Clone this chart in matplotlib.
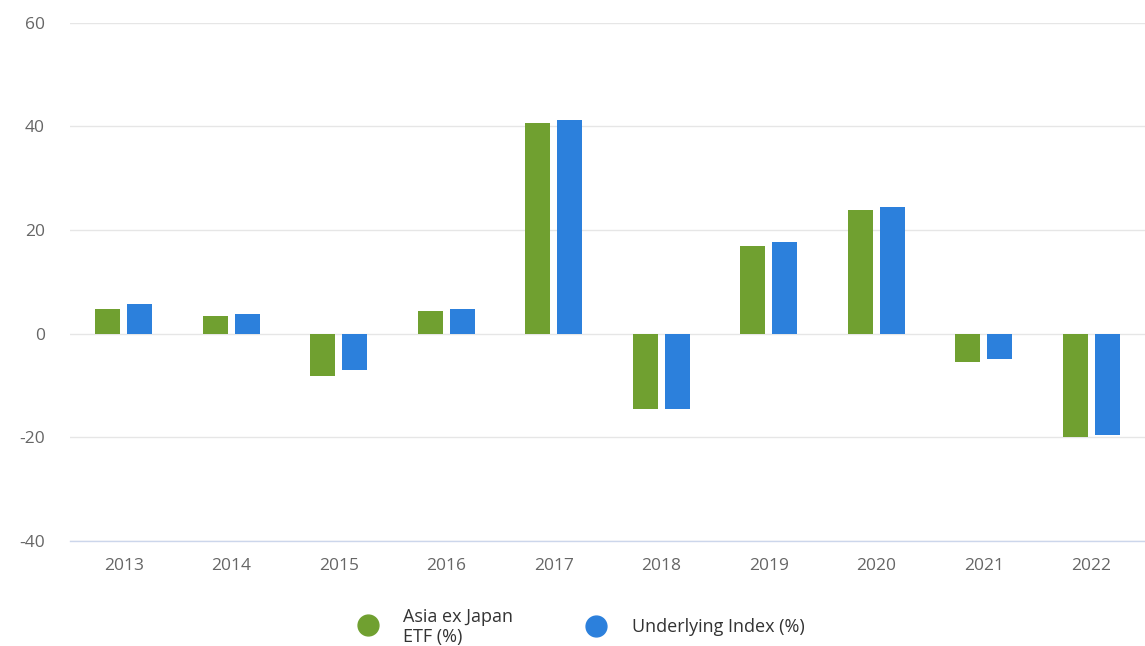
import numpy as np
import matplotlib
matplotlib.use('AGG')
import matplotlib.pyplot as plt
from matplotlib.lines import Line2D

years = ['2013', '2014', '2015', '2016', '2017', '2018', '2019', '2020', '2021', '2022']
etf = [4.8, 3.5, -8.1, 4.4, 40.6, -14.5, 17.0, 23.9, -5.4, -20.0]
index = [5.7, 3.8, -7.0, 4.8, 41.3, -14.5, 17.6, 24.5, -4.9, -19.6]
yticks = [-40, -20, 0, 20, 40, 60]
legend_labels = ['Asia ex Japan\nETF (%)', 'Underlying Index (%)']

green = '#70a030'
blue = '#2c80dc'

plt.rcParams['font.family'] = ['Open Sans', 'DejaVu Sans']

W, H = 1145, 646
fig = plt.figure(figsize=(W / 100, H / 100), dpi=100)
ax = fig.add_axes([70 / W, 1 - 541 / H, 1 - 70 / W, (541 - 22.7) / H])

x = np.arange(len(years))
w = 0.233
off = 0.148
ax.bar(x - off, etf, width=w, color=green, zorder=3)
ax.bar(x + off, index, width=w, color=blue, zorder=3)

ax.set_xlim(-0.5, len(years) - 0.5)
ax.set_ylim(-40, 60)
ax.set_yticks(yticks)
ax.set_yticklabels([str(t) for t in yticks])
ax.set_xticks(x)
ax.set_xticklabels(years)

ax.grid(axis='y', color='#e6e6e6', linewidth=1, zorder=0)
for s in ['top', 'right', 'left']:
    ax.spines[s].set_visible(False)
ax.spines['bottom'].set_color('#ccd6eb')
ax.spines['bottom'].set_linewidth(1)
ax.tick_params(axis='both', length=0, labelsize=12.5, labelcolor='#666666')
ax.tick_params(axis='y', pad=18)
ax.tick_params(axis='x', pad=12.5)

# legend drawn by hand (pixel positions)
for (cx, cy, ty, tx), col, lab in zip([(368, 625, 627, 403), (596, 626, 627, 632)],
                                      [green, blue], legend_labels):
    fig.add_artist(Line2D([cx / W], [1 - cy / H], marker='o', markersize=15,
                          color=col, linestyle='none', transform=fig.transFigure))
    fig.text(tx / W, 1 - ty / H, lab, ha='left', va='center', fontsize=13,
             color='#333333', linespacing=1.15)

plt.savefig('out.png', dpi=100)
plt.close()
